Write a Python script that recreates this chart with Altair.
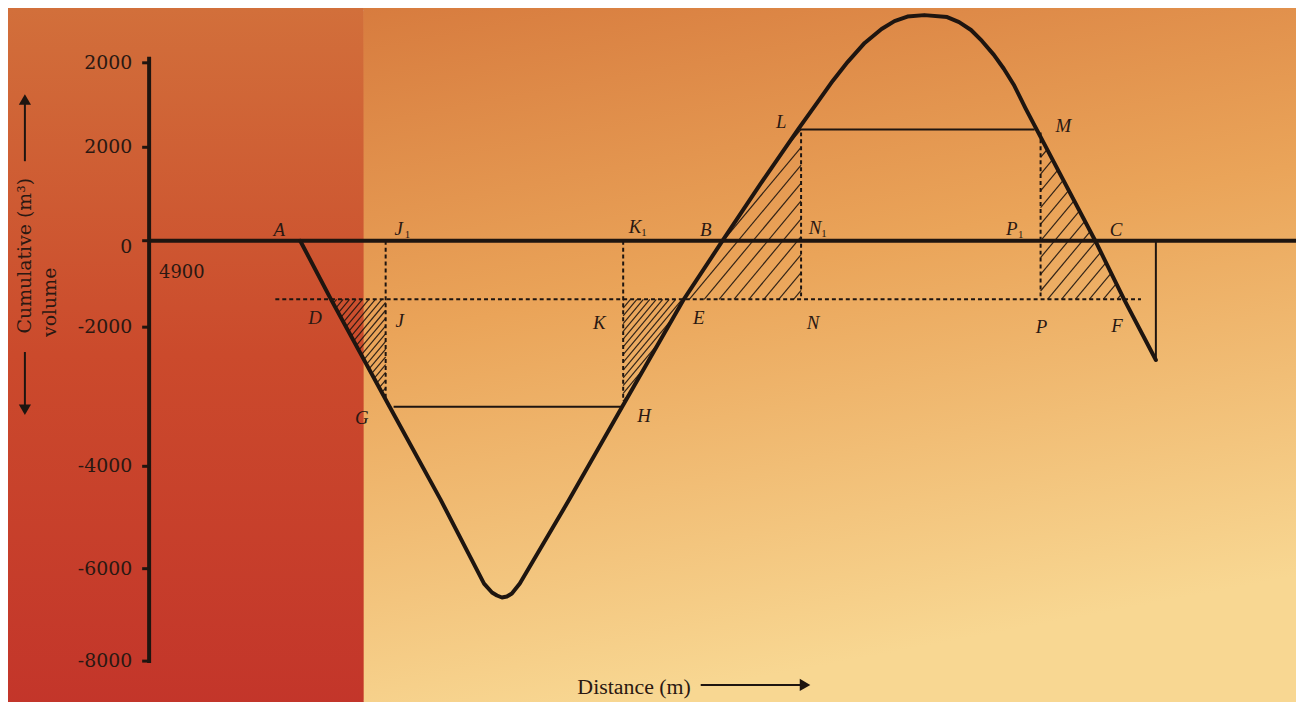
import altair as alt
import numpy as np
import pandas as pd

# ---------------- data (diagram units: x = distance, y = cumulative volume, origin at axes crossing)
CURVE_X = [152, 183, 242, 293, 337, 345, 350, 355, 360, 365, 373, 423, 476, 538, 577, 615, 653, 673,
           688, 703, 720, 737, 750, 763, 780, 803, 815, 827, 838, 850, 860, 870, 882, 893,
           952, 981, 1013]
CURVE_Y = [0, -59, -167, -260, -345, -354, -357, -359, -358, -355, -345, -260, -167, -59, 0, 57, 112,
           140, 161, 180, 199, 213, 221, 225.5, 227, 225, 220, 212, 201, 187, 173, 157, 133, 112,
           0, -59, -120]

TICK_Y = [179, 94, 0, -87, -227, -330, -423]
TICK_LABELS = ["2000", "2000", "0", "-2000", "-4000", "-6000", "-8000"]
TICK_LABEL_Y = [179, 94, -6, -87, -227, -330, -423]

BALANCE_Y = -59          # balancing line D-E-F
GH_Y = -167
LM_Y = 112
J_X, K_X, N_X, P_X = 238, 477, 656, 897
END_X = 1013
D_X, E_X, F_X = 183, 538, 981
G_X, H_X = 242, 476
L_X, M_X = 655, 893

PT_LABELS = ["A", "B", "C", "D", "J", "K", "E", "N", "P", "F", "G", "H", "L", "M"]
PT_X = [131, 560, 973, 167, 252, 453, 553, 668, 898, 974, 214, 498, 636, 920]
PT_Y = [11, 11, 11, -78, -81, -83, -78, -83, -87, -86, -178, -176, 119, 115]
SUB_LABELS = ["J", "K", "N", "P"]
SUB_X = [251, 489, 670, 868]
SUB_Y = [12, 14, 13, 12]

X_DOM = [-142, 1154]
Y_DOM = [-462, 232]

INK = "#1e1510"
TXT = "#2a1812"

xs = alt.Scale(domain=X_DOM, nice=False, zero=False)
ys = alt.Scale(domain=Y_DOM, nice=False, zero=False)


def cy(x):
    return float(np.interp(x, CURVE_X, CURVE_Y))


def enc_xy(ch):
    return ch.encode(x=alt.X("x:Q", scale=xs, axis=None), y=alt.Y("y:Q", scale=ys, axis=None))


def segs(rows, **kw):
    df = pd.DataFrame(rows, columns=["x", "y", "x2", "y2"])
    return alt.Chart(df).mark_rule(**kw).encode(
        x=alt.X("x:Q", scale=xs, axis=None), y=alt.Y("y:Q", scale=ys, axis=None),
        x2="x2:Q", y2="y2:Q")


def hatch(poly, h, s=1.2):
    P = np.array(poly, float)
    f0 = P[:, 1] - s * P[:, 0]
    step = s * h
    out = []
    c = f0.min() + step / 2
    n = len(P)
    while c < f0.max():
        pts = []
        for i in range(n):
            a, b = P[i], P[(i + 1) % n]
            fa = a[1] - s * a[0] - c
            fb = b[1] - s * b[0] - c
            if (fa <= 0 < fb) or (fb <= 0 < fa):
                t = fa / (fa - fb)
                pts.append(a + t * (b - a))
        if len(pts) >= 2:
            pts.sort(key=lambda p: p[0])
            out.append((pts[0][0], pts[0][1], pts[-1][0], pts[-1][1]))
        c += step
    return out


# ---------------- background
bg_left = alt.Chart(pd.DataFrame({"x": [-150], "x2": [216], "y": [-470], "y2": [240]})).mark_rect(
    color={"gradient": "linear", "x1": 0, "y1": 0, "x2": 0, "y2": 1,
           "stops": [{"offset": 0, "color": "#d2703b"}, {"offset": 0.5, "color": "#cb4a2c"},
                     {"offset": 1, "color": "#c3352a"}]}
).encode(x=alt.X("x:Q", scale=xs, axis=None), x2="x2:Q", y=alt.Y("y:Q", scale=ys, axis=None), y2="y2:Q")

bg_right = alt.Chart(pd.DataFrame({"x": [216], "x2": [1160], "y": [-470], "y2": [240]})).mark_rect(
    color={"gradient": "linear", "x1": 0, "y1": 0, "x2": 0.25, "y2": 1,
           "stops": [{"offset": 0, "color": "#d77b3e"}, {"offset": 0.45, "color": "#eaa459"},
                     {"offset": 1, "color": "#f8d792"}]}
).encode(x=alt.X("x:Q", scale=xs, axis=None), x2="x2:Q", y=alt.Y("y:Q", scale=ys, axis=None), y2="y2:Q")

# ---------------- hatched regions
r1 = [(D_X, BALANCE_Y), (J_X, BALANCE_Y), (J_X, cy(J_X))]
r2 = [(K_X, BALANCE_Y), (E_X, BALANCE_Y), (K_X, cy(K_X))]
r3 = [(E_X, BALANCE_Y)] + [(x, y) for x, y in zip(CURVE_X, CURVE_Y) if E_X < x < N_X - 2] + \
     [(N_X, LM_Y), (N_X, BALANCE_Y)]
r4 = [(P_X, cy(P_X))] + [(x, y) for x, y in zip(CURVE_X, CURVE_Y) if P_X < x <= F_X] + [(P_X, BALANCE_Y)]
hatch_rows = hatch(r1, 6.5) + hatch(r2, 6.5) + hatch(r3, 15) + hatch(r4, 14)
hatch_layer = segs(hatch_rows, color=INK, strokeWidth=1.2, opacity=0.9)

# ---------------- construction lines
dashed = segs([
    (127, BALANCE_Y, 998, BALANCE_Y),
    (J_X, 0, J_X, cy(J_X)),
    (K_X, 0, K_X, cy(K_X) + 4),
    (N_X, LM_Y - 3, N_X, BALANCE_Y),
    (P_X, LM_Y - 3, P_X, BALANCE_Y),
], color=INK, strokeWidth=2, strokeDash=[4, 3])

solid_thin = segs([
    (G_X + 4, GH_Y, H_X - 1, GH_Y),
    (L_X, LM_Y, M_X - 2, LM_Y),
    (END_X, 0, END_X, CURVE_Y[-1]),
], color=INK, strokeWidth=2)

axes = segs([
    (0, 0, 1160, 0),
    (0, TICK_Y[-1] - 2, 0, TICK_Y[0] + 6),
], color=INK, strokeWidth=4)

ticks = segs([(-7, t, 0, t) for t in TICK_Y], color=INK, strokeWidth=3)

# ---------------- curve
curve = alt.Chart(pd.DataFrame({"x": CURVE_X, "y": CURVE_Y, "i": range(len(CURVE_X))})).mark_line(
    color=INK, strokeWidth=4, interpolate="linear", strokeJoin="round", strokeCap="round"
).encode(x=alt.X("x:Q", scale=xs, axis=None), y=alt.Y("y:Q", scale=ys, axis=None), order="i:O")

# ---------------- texts
tick_text = enc_xy(alt.Chart(pd.DataFrame({"x": [-17] * len(TICK_Y), "y": TICK_LABEL_Y, "t": TICK_LABELS}))
                   .mark_text(font="DejaVu Serif", fontSize=19, color=TXT, align="right",
                              baseline="middle")).encode(text="t:N")

pt_text = enc_xy(alt.Chart(pd.DataFrame({"x": PT_X, "y": PT_Y, "t": PT_LABELS}))
                 .mark_text(font="Liberation Serif", fontStyle="italic", fontSize=19, color=TXT,
                            align="center", baseline="middle")).encode(text="t:N")

sub_main = enc_xy(alt.Chart(pd.DataFrame({"x": SUB_X, "y": SUB_Y, "t": SUB_LABELS}))
                  .mark_text(font="Liberation Serif", fontStyle="italic", fontSize=19, color=TXT,
                             align="center", baseline="middle")).encode(text="t:N")
sub_one = enc_xy(alt.Chart(pd.DataFrame({"x": [v + 9 for v in SUB_X], "y": [v - 6 for v in SUB_Y],
                                         "t": ["1"] * len(SUB_X)}))
                 .mark_text(font="Liberation Serif", fontSize=11, color=TXT,
                            align="center", baseline="middle")).encode(text="t:N")

misc_text = enc_xy(alt.Chart(pd.DataFrame({"x": [10], "y": [-33], "t": ["4900"]}))
                   .mark_text(font="DejaVu Serif", fontSize=18, color=TXT, align="left",
                              baseline="middle")).encode(text="t:N")

ytitle = enc_xy(alt.Chart(pd.DataFrame({"x": [-125, -100], "y": [-15, -62],
                                        "t": ["Cumulative (m³)", "volume"]}))
                .mark_text(font="DejaVu Serif", fontSize=19, color=TXT, angle=270,
                           align="center", baseline="middle")).encode(text="t:N")

xtitle = enc_xy(alt.Chart(pd.DataFrame({"x": [488], "y": [-449], "t": ["Distance (m)"]}))
                .mark_text(font="Liberation Serif", fontSize=22, color=TXT, align="center",
                           baseline="middle")).encode(text="t:N")

arrow_shafts = segs([
    (-125, 80, -125, 140),
    (-125, -112, -125, -168),
    (555, -447, 655, -447),
], color=INK, strokeWidth=2)

heads = alt.Chart(pd.DataFrame({"x": [-125, -125, 660], "y": [142, -170, -447],
                                "s": ["triangle-up", "triangle-down", "triangle-right"]})).mark_point(
    filled=True, color=INK, opacity=1, size=150
).encode(x=alt.X("x:Q", scale=xs, axis=None), y=alt.Y("y:Q", scale=ys, axis=None),
         shape=alt.Shape("s:N", scale=None))

chart = alt.layer(
    bg_left, bg_right, hatch_layer, dashed, solid_thin, axes, ticks, curve,
    tick_text, pt_text, sub_main, sub_one, misc_text, ytitle, xtitle, arrow_shafts, heads
).properties(width=1296, height=694, padding=0, autosize="none").configure_view(stroke=None).configure(
    background="#e9a35a")

chart.save("out.html", embed_options={"renderer": "svg", "actions": False})
